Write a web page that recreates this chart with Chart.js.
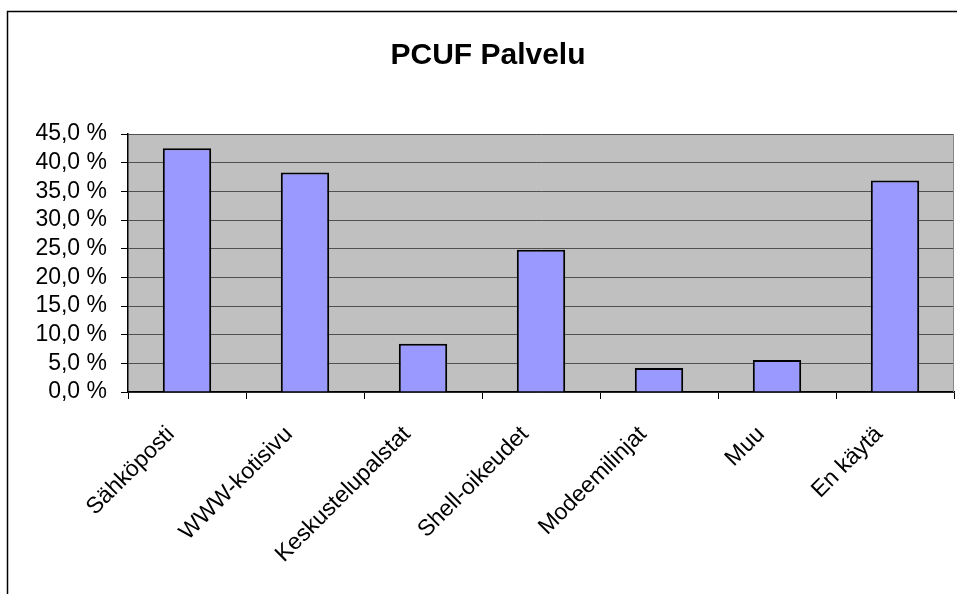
<!DOCTYPE html>
<html>
<head>
<meta charset="utf-8">
<title>PCUF Palvelu</title>
<script src="https://cdn.jsdelivr.net/npm/chart.js@4.4.1/dist/chart.umd.min.js"></script>
<style>
    body { margin: 0; background: #fff; }
    canvas { display: block; }
</style>
</head>
<body>
<canvas id="grafica" width="957" height="594"></canvas>
<script>
// datos
const categorias = ['Sähköposti', 'WWW-kotisivu', 'Keskustelupalstat', 'Shell-oikeudet', 'Modeemilinjat', 'Muu', 'En käytä'];
const porcentajes = [42.5, 38.3, 8.4, 24.8, 4.2, 5.6, 36.9];
const ejeY = { min: 0, max: 45, paso: 5 };

const fuente = "'Liberation Sans', Arial, sans-serif";

// fondo gris del area y marco exterior
const fondoPlugin = {
    id: 'fondo',
    beforeDraw(chart) {
        const { ctx, chartArea } = chart;
        ctx.save();
        ctx.fillStyle = '#fff';
        ctx.fillRect(0, 0, chart.width, chart.height);
        ctx.strokeStyle = '#000';
        ctx.lineWidth = 1.5;
        ctx.strokeRect(7.5, 11.5, chart.width + 20, chart.height + 20);
        ctx.fillStyle = '#C0C0C0';
        ctx.fillRect(chartArea.left, chartArea.top, chartArea.right - chartArea.left, chartArea.bottom - chartArea.top);
        ctx.restore();
    },
    beforeDatasetsDraw(chart) {
        const { ctx, chartArea } = chart;
        ctx.save();
        ctx.strokeStyle = '#888';
        ctx.lineWidth = 1;
        ctx.beginPath();
        ctx.moveTo(chartArea.right - 0.5, chartArea.top);
        ctx.lineTo(chartArea.right - 0.5, chartArea.bottom);
        ctx.stroke();
        ctx.restore();
    }
};

new Chart(document.getElementById('grafica'), {
    type: 'bar',
    data: {
        labels: categorias,
        datasets: [{
            label: 'PCUF Palvelu',
            data: porcentajes,
            backgroundColor: '#9999FF',
            borderColor: '#000',
            borderWidth: 2,
            categoryPercentage: 1,
            barPercentage: 0.41
        }]
    },
    options: {
        responsive: false,
        animation: false,
        layout: { padding: { left: 22, right: 3, top: 0, bottom: 0 } },
        plugins: {
            legend: { display: false },
            tooltip: { enabled: false },
            title: {
                display: true,
                text: 'PCUF Palvelu',
                color: '#000',
                font: { family: fuente, size: 30, weight: 'bold' },
                padding: { top: 38, bottom: 60 }
            }
        },
        scales: {
            x: {
                grid: {
                    offset: true,
                    drawOnChartArea: false,
                    drawTicks: true,
                    tickLength: 7,
                    tickColor: '#000'
                },
                border: { color: '#000', width: 1.5 },
                ticks: {
                    color: '#000',
                    font: { family: fuente, size: 23 },
                    minRotation: 45,
                    maxRotation: 45,
                    padding: 22,
                    labelOffset: -16
                },
                afterFit(scale) { scale.height = 202; }
            },
            y: {
                min: ejeY.min,
                max: ejeY.max,
                grid: {
                    color: '#505050',
                    lineWidth: 1,
                    tickLength: 7,
                    tickColor: '#000'
                },
                border: { color: '#000', width: 1.5 },
                ticks: {
                    stepSize: ejeY.paso,
                    autoSkip: false,
                    color: '#000',
                    font: { family: fuente, size: 23 },
                    padding: 14,
                    callback: v => v.toFixed(1).replace('.', ',') + ' %'
                },
                afterFit(scale) { scale.width = 106; }
            }
        }
    },
    plugins: [fondoPlugin]
});
</script>
</body>
</html>
